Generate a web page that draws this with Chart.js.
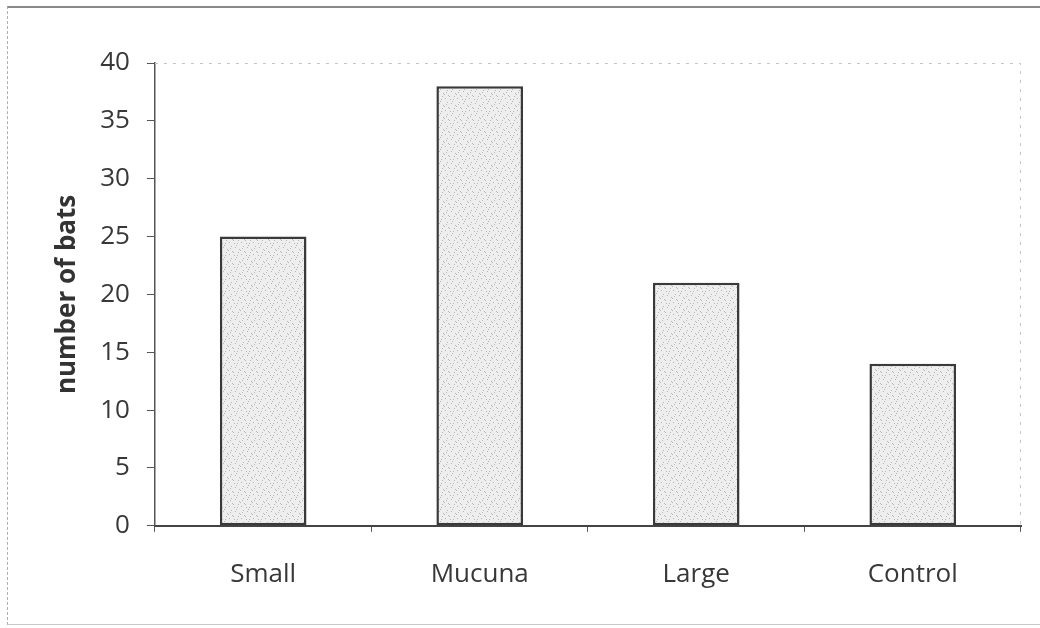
<!DOCTYPE html>
<html>
<head>
<meta charset="utf-8">
<script src="https://cdn.jsdelivr.net/npm/chart.js@4/dist/chart.umd.min.js"></script>
<style>
  html, body { margin: 0; padding: 0; background: #fff; }
  #wrap { position: relative; width: 1040px; height: 628px; }
  #frame {
    position: absolute; left: 7px; top: 6px; width: 1040px; height: 619px;
    border-top: 2px solid #8a8a8a; border-left: 1px dashed #b0b0b0; border-bottom: 1px solid #c8c8c8;
    box-sizing: border-box;
  }
  canvas { position: absolute; left: 0; top: 0; }
</style>
</head>
<body>
<div id="wrap">
  <div id="frame"></div>
  <canvas id="chart" width="1040" height="628"></canvas>
</div>
<script>
const categories = ['Small', 'Mucuna', 'Large', 'Control'];
const bats = [25, 38, 21, 14];
const yTicks = [0, 5, 10, 15, 20, 25, 30, 35, 40];

// stippled grey fill, like the scanned bars
function stipple() {
  const c = document.createElement('canvas');
  c.width = 12; c.height = 12;
  const g = c.getContext('2d');
  g.fillStyle = '#eeeeee';
  g.fillRect(0, 0, 12, 12);
  const dots = [[1,2],[5,0],[9,3],[3,6],[7,7],[11,9],[0,10],[4,11],[8,5],[10,0],[2,8],[6,3]];
  g.fillStyle = '#b8b8b8';
  dots.forEach(d => g.fillRect(d[0], d[1], 1, 1));
  return g.createPattern(c, 'repeat');
}

// faint dotted top/right edge of the plot area
const plotEdge = {
  id: 'plotEdge',
  beforeDatasetsDraw(chart) {
    const a = chart.chartArea, ctx = chart.ctx;
    ctx.save();
    ctx.strokeStyle = '#c4c4c4';
    ctx.lineWidth = 1;
    ctx.setLineDash([3, 6]);
    ctx.beginPath();
    ctx.moveTo(a.left, a.top + 0.5);
    ctx.lineTo(a.right - 0.5, a.top + 0.5);
    ctx.lineTo(a.right - 0.5, a.bottom);
    ctx.stroke();
    ctx.restore();
  }
};

const ctx = document.getElementById('chart');
new Chart(ctx, {
  type: 'bar',
  data: {
    labels: categories,
    datasets: [{
      data: bats,
      backgroundColor: stipple(),
      borderColor: '#3a3a3a',
      borderWidth: 2.5,
      borderSkipped: false,
      categoryPercentage: 1,
      barPercentage: 0.4
    }]
  },
  options: {
    responsive: false,
    animation: false,
    layout: { padding: { top: 63, right: 19, bottom: 11, left: 42 } },
    plugins: { legend: { display: false }, tooltip: { enabled: false } },
    scales: {
      x: {
        grid: { display: true, drawOnChartArea: false, drawTicks: true, tickLength: 6, color: '#555', offset: true },
        border: { display: true, color: '#444', width: 2 },
        ticks: { color: '#383838', font: { family: 'Open Sans', size: 26 }, padding: 27 }
      },
      y: {
        min: 0, max: 40,
        afterBuildTicks(axis) { axis.ticks = yTicks.map(v => ({ value: v })); },
        grid: { display: true, drawOnChartArea: false, drawTicks: true, tickLength: 8, color: '#555' },
        border: { display: true, color: '#555', width: 1.5, dash: [6, 2] },
        ticks: { color: '#383838', font: { family: 'Open Sans', size: 26 }, padding: 17 },
        title: { display: true, text: 'number of bats', color: '#333', font: { family: 'Open Sans', size: 26, weight: 'bold' }, padding: { top: 10, bottom: 0 } }
      }
    }
  },
  plugins: [plotEdge]
});
</script>
</body>
</html>
